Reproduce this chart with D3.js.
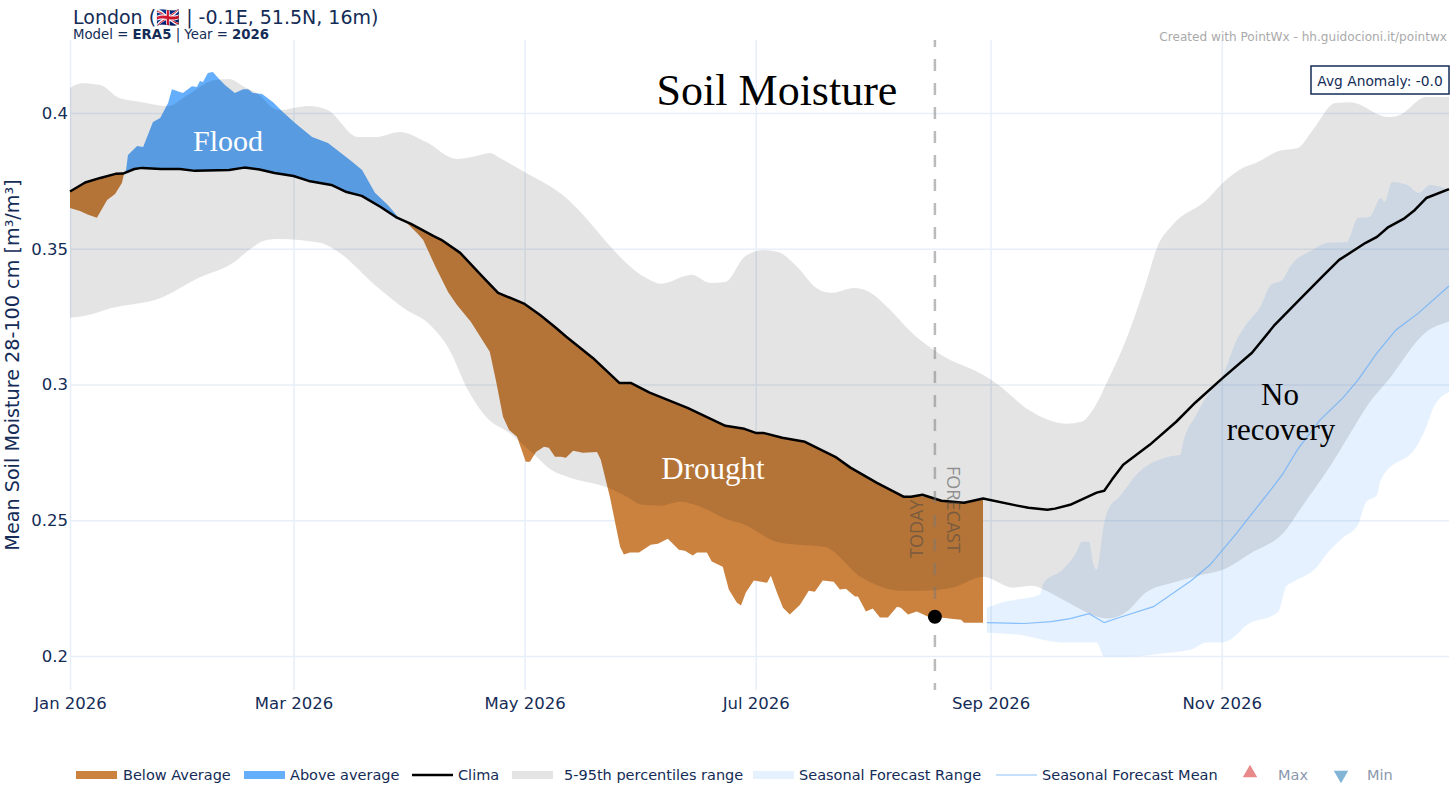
<!DOCTYPE html>
<html>
<head>
<meta charset="utf-8">
<script src="https://d3js.org/d3.v7.min.js"></script>
<style>
  html, body { margin: 0; padding: 0; background: #fff; }
  text { font-family: "DejaVu Sans", sans-serif; }
  .serif { font-family: "Liberation Serif", serif; }
</style>
</head>
<body>
<div id="container"></div>
<script>
// all series are [day of 2026, value]
const monthTicks = ["2026-01-01", "2026-03-01", "2026-05-01", "2026-07-01", "2026-09-01", "2026-11-01"]
const yTicks = [0.2, 0.25, 0.3, 0.35, 0.4]
const todayDay = 228.3
const todayValue = 0.2145

const climaDay = [0,4,8,12,14,17,19,24,29,33,42,46,50,54,59,63,69,73,77,82,86,90,96,98,103,109,113,120,124,128,131,138,145,148,153,163,173,178,181,183,188,194,202,206,213,220,222,225,230,236,241,250,253,258,260,264,271,273,275,278,285,292,297,304,312,318,325,331,335,342,345,348,352,355,358,364]
const climaValue = [.3711,.3744,.3761,.3776,.3777,.3794,.3798,.3794,.3794,.3787,.3790,.3799,.3792,.3779,.3768,.3750,.3735,.3709,.3695,.3654,.3617,.3592,.3547,.3533,.3485,.3396,.3338,.3297,.3257,.3212,.3176,.3098,.3006,.3006,.2970,.2914,.2848,.2837,.2822,.2822,.2804,.2789,.2734,.2694,.2638,.2587,.2587,.2594,.2572,.2565,.2580,.2554,.2546,.2539,.2543,.2557,.2602,.2609,.2649,.2705,.2778,.2863,.2933,.3021,.3117,.3220,.3319,.3404,.3459,.3522,.3544,.3580,.3610,.3643,.3687,.3720]

const obsDay = [0,2.6,4.8,7.1,9.8,11.9,13.7,14.3,14.8,15.3,17.7,19.3,21.9,23.8,25.9,26.9,29.8,32.2,33.5,34.3,35.1,36.4,37.7,39.1,40.9,43.5,45.7,47,48.3,50.7,53.6,56.2,59.4,63.9,68.1,73.9,77.1,80.5,83.9,86.6,88.9,91.6,93.2,96.6,99.8,102.1,105.8,110.8,112.4,114.3,115.9,118,120.3,121.4,123,125.1,126.4,128,129.6,130.9,132.8,135.4,139.1,140.1,142.5,145.2,146.2,147.8,150.2,153.3,155.2,157.8,160.7,162.3,164.4,165.5,168.1,169.4,172.3,173.9,176,177.1,178.4,180.5,184,185,186.6,188.2,190,192.7,195,196.6,198.7,201.6,203.2,204.8,207.2,208,210.1,211.9,213.8,215.9,218.3,219.3,221.2,223.5,227,228.3,232,235.2,236,241]
const obsValue = [.3650,.3639,.3625,.3614,.3680,.3702,.3742,.3779,.3790,.3845,.3879,.3875,.3967,.3982,.4037,.4088,.4074,.4099,.4096,.4118,.4114,.4147,.4151,.4129,.4103,.4074,.4088,.4088,.4074,.4070,.4040,.4004,.3963,.3912,.3890,.3827,.3790,.3706,.3661,.3617,.3595,.3558,.3533,.3430,.3341,.3294,.3231,.3121,.3017,.2881,.2833,.2808,.2716,.2716,.2752,.2771,.2767,.2734,.2734,.2730,.2756,.2749,.2752,.2723,.2587,.2403,.2374,.2381,.2381,.2410,.2414,.2432,.2392,.2388,.2370,.2381,.2381,.2348,.2329,.2245,.2197,.2186,.2234,.2278,.2270,.2296,.2234,.2178,.2153,.2189,.2241,.2237,.2278,.2274,.2245,.2248,.2219,.2219,.2164,.2175,.2142,.2142,.2182,.2178,.2153,.2164,.2142,.2145,.2138,.2134,.2123,.2123]

const p95Day = [0,3,8,13,19,26,31,38,42,46,49,55,63,68,76,81,87,94,102,106,111,113,120,131,135,143,146,152,156,164,169,173,178,183,187,192,197,201,207,211,216,222,230,241,245,253,263,267,270,274,278,284,287,291,300,304,310,313,319,324,328,334,338,348,351,358,364]
const p95Value = [.4092,.4110,.4103,.4055,.4040,.4026,.4066,.4121,.4125,.4096,.4077,.4011,.4026,.4011,.3912,.3912,.3930,.3893,.3831,.3838,.3853,.3838,.3783,.3687,.3632,.3503,.3459,.3393,.3371,.3404,.3374,.3378,.3470,.3496,.3488,.3433,.3356,.3338,.3356,.3341,.3282,.3194,.3109,.3036,.2999,.2907,.2856,.2863,.2907,.3017,.3139,.3374,.3507,.3588,.3680,.3739,.3801,.3816,.3860,.3871,.3937,.4037,.4040,.3985,.3993,.4059,.4059]

const p5Day = [0,4,11,24,34,43,48,51,55,66,70,81,88,95,100,105,110,116,122,127,132,142,147,151,156,161,167,173,178,187,192,199,209,219,225,233,241,249,254,257,262,274,279,284,292,299,305,311,321,325,332,338,343,348,358,364]
const p5Value = [.3246,.3253,.3282,.3319,.3393,.3448,.3503,.3529,.3536,.3522,.3496,.3360,.3282,.3220,.3132,.2981,.2878,.2822,.2749,.2686,.2657,.2620,.2587,.2557,.2554,.2568,.2546,.2506,.2484,.2418,.2410,.2403,.2289,.2241,.2241,.2252,.2292,.2252,.2259,.2245,.2208,.2138,.2164,.2234,.2274,.2300,.2322,.2373,.2465,.2546,.2686,.2822,.2933,.3017,.3194,.3231]

const fcMaxDay = [242,246,250,256,257,262,266,267,269,270,271,273,274,277,282,290,293,294,297,300,304,308,311,314,317,320,322,328,332,337,340,343,346,347,349,353,356,359,364]
const fcMaxValue = [.2178,.2197,.2208,.2226,.2270,.2318,.2392,.2421,.2421,.2344,.2318,.2491,.2539,.2587,.2675,.2734,.2741,.2797,.2881,.2955,.3025,.3165,.3231,.3282,.3367,.3385,.3433,.3496,.3522,.3525,.3614,.3617,.3687,.3672,.3746,.3735,.3706,.3735,.3717]

const fcMinDay = [242,250,262,271,273,280,288,296,300,304,308,310,319,321,323,329,332,336,340,342,345,346,356,358,360,364]
const fcMinValue = [.2086,.2079,.2050,.2050,.1998,.1998,.2009,.2024,.2050,.2050,.2079,.2108,.2164,.2256,.2274,.2326,.2381,.2436,.2484,.2565,.2594,.2649,.2786,.2844,.2918,.2973]

const fcMeanDay = [242,252,259,264,269,273,277,286,296,301,308,318,320,324,330,336,340,345,350,356,364]
const fcMeanValue = [.2123,.2120,.2127,.2138,.2156,.2123,.2142,.2182,.2278,.2337,.2454,.2631,.2668,.2760,.2870,.2951,.3017,.3117,.3201,.3264,.3363]

const width = 1456
const height = 794
const margin = { top: 40, right: 7, bottom: 104, left: 70 }
const navy = "#142c56"
const gridColor = "#e8eff9"

const yearStart = new Date(2026, 0, 1)
const toDate = d => new Date(yearStart.getTime() + d * 864e5)
const zip = (days, values) => days.map((d, i) => [d, values[i]])

const svg = d3.select("#container").append("svg")
    .attr("width", width).attr("height", height)
    .style("display", "block")

const xScale = d3.scaleTime()
    .domain([yearStart, toDate(364)])
    .range([margin.left, width - margin.right])
const yScale = d3.scaleLinear()
    .domain([0.1875, 0.4269])
    .range([height - margin.bottom, margin.top])

// grid
const xGrid = svg.append("g")
    .attr("transform", `translate(0,${height - margin.bottom})`)
    .call(d3.axisBottom(xScale)
        .tickValues(monthTicks.map(d => d3.timeParse("%Y-%m-%d")(d)))
        .tickFormat(d3.timeFormat("%b %Y"))
        .tickSize(-(height - margin.top - margin.bottom))
        .tickPadding(7))
const yGrid = svg.append("g")
    .attr("transform", `translate(${margin.left},0)`)
    .call(d3.axisLeft(yScale)
        .tickValues(yTicks)
        .tickFormat(String)
        .tickSize(-(width - margin.left - margin.right))
        .tickPadding(2))
for (const g of [xGrid, yGrid]) {
    g.select(".domain").remove()
    g.selectAll("line").attr("stroke", gridColor).attr("stroke-width", 1.5)
    g.selectAll("text").attr("fill", navy).style("font-size", "16.5px").style("font-family", '"DejaVu Sans", sans-serif')
}

const line = d3.line()
    .x(d => xScale(toDate(d[0])))
    .y(d => yScale(d[1]))
const smooth = d3.line()
    .x(d => xScale(toDate(d[0])))
    .y(d => yScale(d[1]))
    .curve(d3.curveMonotoneX)

// upper edge forward, lower edge back
const bandPath = (upper, lower) =>
    smooth(upper) + "L" + smooth(lower.slice().reverse()).slice(1) + "Z"

// anomaly fills, between the observed line and the climatology
const climaAt = d3.scaleLinear().domain(climaDay).range(climaValue)
const obs = zip(obsDay, obsValue)
const anomaly = (pick) => d3.area()
    .x(d => xScale(toDate(d[0])))
    .y0(d => yScale(climaAt(d[0])))
    .y1(d => yScale(pick(d[1], climaAt(d[0]))))

svg.append("path").attr("d", anomaly(Math.min)(obs)).attr("fill", "#cb823e")
svg.append("path").attr("d", anomaly(Math.max)(obs)).attr("fill", "#64aefb")

// forecast range sits under the grey band
svg.append("path")
    .attr("d", bandPath(zip(fcMaxDay, fcMaxValue), zip(fcMinDay, fcMinValue)))
    .attr("fill", "rgba(100,174,251,0.17)")

svg.append("path")
    .attr("d", bandPath(zip(p95Day, p95Value), zip(p5Day, p5Value)))
    .attr("fill", "rgba(0,0,0,0.106)")

svg.append("path")
    .attr("d", line(zip(fcMeanDay, fcMeanValue)))
    .attr("fill", "none")
    .attr("stroke", "rgba(100,174,251,0.75)")
    .attr("stroke-width", 1.2)

svg.append("path")
    .attr("d", line(zip(climaDay, climaValue)))
    .attr("fill", "none")
    .attr("stroke", "#000")
    .attr("stroke-width", 2.5)
    .attr("stroke-linejoin", "round")

// today marker
svg.append("line")
    .attr("x1", xScale(toDate(todayDay))).attr("x2", xScale(toDate(todayDay)))
    .attr("y1", margin.top).attr("y2", height - margin.bottom)
    .attr("stroke", "rgba(120,120,120,0.5)")
    .attr("stroke-width", 2.5)
    .attr("stroke-dasharray", "12 12")
    .attr("stroke-dashoffset", 5)
svg.append("circle")
    .attr("cx", xScale(toDate(todayDay))).attr("cy", yScale(todayValue))
    .attr("r", 7).attr("fill", "#000")

const vertical = (label, x, y, angle) => svg.append("text")
    .attr("transform", `translate(${x},${y}) rotate(${angle})`)
    .attr("fill", "rgba(70,70,70,0.55)")
    .style("font-family", '"Open Sans", sans-serif')
    .style("font-size", "18px")
    .text(label)
vertical("TODAY", 923, 558, -90)
vertical("FORECAST", 947, 466, 90)

// annotations
const note = (label, x, y, size, color) => svg.append("text")
    .attr("class", "serif")
    .attr("x", x).attr("y", y)
    .attr("text-anchor", "middle")
    .attr("fill", color)
    .style("font-size", size + "px")
    .text(label)
note("Soil Moisture", 777, 105, 44, "#000")
note("Flood", 228, 151, 30, "#fff")
note("Drought", 713, 479, 31, "#fff")
note("No", 1280, 405, 31, "#000")
note("recovery", 1281, 440, 31, "#000")

// titles
const title = svg.append("text").attr("x", 73).attr("y", 24).attr("fill", navy).style("font-size", "19px")
title.text("London (🇬🇧 | -0.1E, 51.5N, 16m)")
const sub = svg.append("text").attr("x", 73).attr("y", 39).attr("fill", navy).style("font-size", "13.3px")
sub.append("tspan").text("Model = ")
sub.append("tspan").attr("font-weight", "bold").text("ERA5")
sub.append("tspan").text(" | Year = ")
sub.append("tspan").attr("font-weight", "bold").text("2026")
svg.append("text")
    .attr("x", 1447).attr("y", 41).attr("text-anchor", "end")
    .attr("fill", "#aaaaaa").style("font-size", "12.1px")
    .text("Created with PointWx - hh.guidocioni.it/pointwx")

svg.append("text")
    .attr("transform", "translate(19,365) rotate(-90)")
    .attr("text-anchor", "middle").attr("fill", navy).style("font-size", "19.2px")
    .text("Mean Soil Moisture 28-100 cm [m³/m³]")

// anomaly box
svg.append("rect")
    .attr("x", 1311).attr("y", 66).attr("width", 138).attr("height", 28)
    .attr("fill", "#fff").attr("stroke", navy).attr("stroke-width", 1.5)
svg.append("text")
    .attr("x", 1380).attr("y", 86).attr("text-anchor", "middle")
    .attr("fill", navy).style("font-size", "13.8px")
    .text("Avg Anomaly: -0.0")

// legend
const legendY = 775
const legendText = (label, x, color) => svg.append("text")
    .attr("x", x).attr("y", legendY + 5)
    .attr("fill", color || navy).style("font-size", "14.5px")
    .text(label)
const swatch = (x, color) => svg.append("rect")
    .attr("x", x).attr("y", legendY - 4).attr("width", 41).attr("height", 8)
    .attr("fill", color)
const stroke = (x, color, w) => svg.append("line")
    .attr("x1", x).attr("x2", x + 41).attr("y1", legendY).attr("y2", legendY)
    .attr("stroke", color).attr("stroke-width", w)

swatch(76, "#cb823e"); legendText("Below Average", 123)
swatch(244, "#64aefb"); legendText("Above average", 290)
stroke(412, "#000", 2.5); legendText("Clima", 458)
swatch(512, "#e4e4e4"); legendText("5-95th percentiles range", 564)
swatch(753, "#e5f2fd"); legendText("Seasonal Forecast Range", 799)
stroke(996, "rgba(100,174,251,0.75)", 1.2); legendText("Seasonal Forecast Mean", 1042)

const marker = d3.symbol().type(d3.symbolTriangle).size(90)
svg.append("path").attr("d", marker()).attr("transform", `translate(1250,${legendY - 2})`).attr("fill", "#e98a8a")
legendText("Max", 1278, "#8b98ae")
svg.append("path").attr("d", marker()).attr("transform", `translate(1341,${legendY}) rotate(180)`).attr("fill", "#82b4d6")
legendText("Min", 1367, "#8b98ae")
</script>
</body>
</html>
